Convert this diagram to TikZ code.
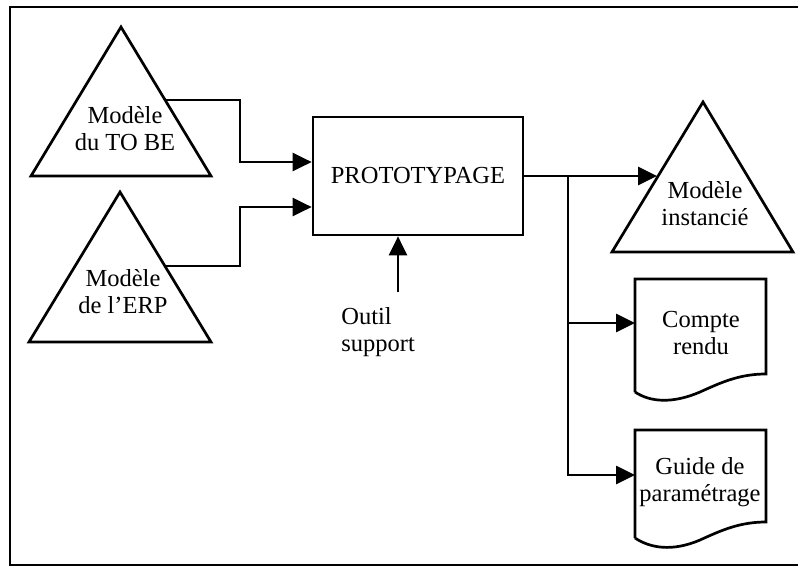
\documentclass[tikz,border=0pt]{standalone}
\usepackage{fontspec}
\setmainfont{Liberation Serif}
\usetikzlibrary{positioning,arrows.meta}
\tikzset{
        >={Triangle[length=19pt,width=18pt]}, % big filled heads
        lbl/.style={align=center, font=\fontsize{24.5}{27}\selectfont, inner sep=0pt},
        procbox/.style={lbl, draw, minimum width=210pt, minimum height=118pt},
}
\begin{document}
\begin{tikzpicture}[x=1pt,y=-1pt,line width=2.7pt]
\useasboundingbox (0,0) rectangle (798,568);
\draw (798,7) -- (10,7) -- (10,565) -- (798,565);

% models (triangles)
\draw (121,27) -- (211,176) -- (31,176) -- cycle;
\draw (120,192) -- (211,342) -- (29,342) -- cycle;
\draw (703,102) -- (793,252) -- (612,252) -- cycle;
\node[lbl] (tobe) at (125,129) {Modèle\\du TO BE};
\node[lbl] (erp) at (123,292) {Modèle\\de l’ERP};
\node[lbl] (inst) at (705,204) {Modèle\\instancié};

% documents
\draw (635,392) -- (635,279) -- (766,279) -- (766,374)
  .. controls (740,374) and (722,382) .. (700,392)
  .. controls (672,404) and (650,402) .. (635,392);
\draw (635,538) -- (635,430) -- (766,430) -- (766,522)
  .. controls (740,522) and (722,530) .. (700,540)
  .. controls (672,552) and (650,548) .. (635,538);
\node[lbl] (cr) at (701,333) {Compte\\rendu};
\node[lbl] (gd) at (700,482) {Guide de\\paramétrage};

\node[procbox] (proto) at (418,176) {PROTOTYPAGE};
\node[lbl, anchor=west, align=left] (outil) at (340,332) {Outil\\support};

\coordinate (tobeout) at (166,100);
\coordinate (erpout) at (165,266);
\coordinate (instin) at (657,176);
\coordinate (split) at (568,176);
\coordinate (crin) at (635,323);
\coordinate (gdin) at (635,475);
\coordinate (outiltop) at (398,292);

\draw[->] (tobeout) -- ++(74,0) |- ([yshift=14pt]proto.west);
\draw[->] (erpout) -- ++(75,0) |- ([yshift=-31pt]proto.west);
\draw[->] (proto.east) -- (instin);
\draw[->] (split) |- (crin);
\draw[->] (split) |- (gdin);
\draw[->] (outiltop) -- (proto.south -| outiltop);
\end{tikzpicture}
\end{document}
